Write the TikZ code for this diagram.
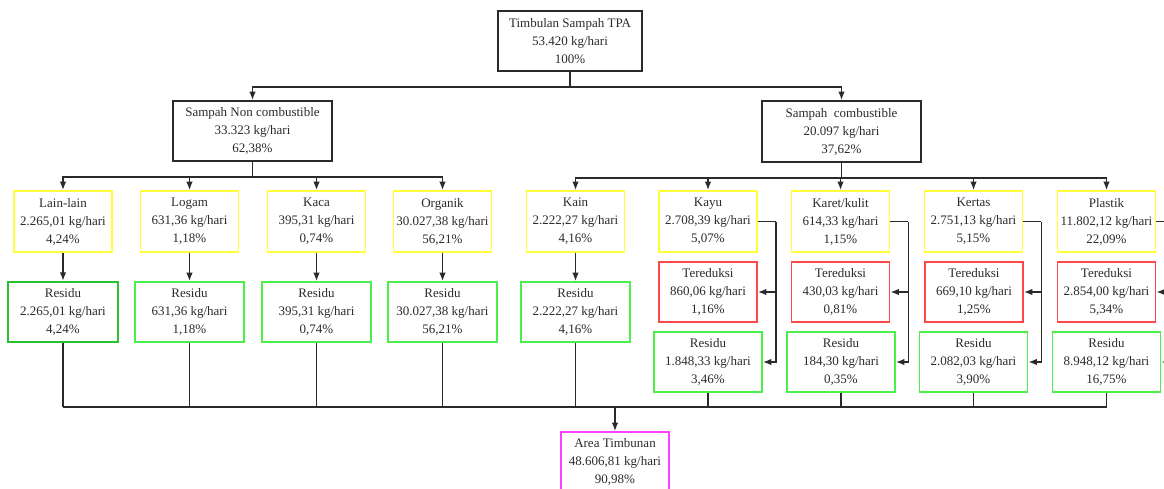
\documentclass[tikz,border=0pt]{standalone}
\usepackage{fontspec}
\setmainfont{Liberation Serif}
\usetikzlibrary{arrows.meta}
\definecolor{ylw}{HTML}{FFFF3A}
\definecolor{grn}{HTML}{4CF04C}
\definecolor{dgrn}{HTML}{2CC02C}
\definecolor{red1}{HTML}{FF4848}
\definecolor{mag}{HTML}{FF40FF}
\definecolor{ink}{HTML}{2A2A2A}
\begin{document}
\begin{tikzpicture}[x=1pt,y=-1pt,
  box/.style={draw=#1, line width=1.7pt, align=center, inner sep=0pt,
    font=\fontsize{13}{18}\selectfont, text=ink},
  kbox/.style={box=ink},
  ybox/.style={box=ylw, minimum width=98, minimum height=61},
  gbox/.style={box=grn, minimum width=109, minimum height=60},
  rbox/.style={box=red1, minimum width=98, minimum height=60},
  conn/.style={draw=ink, line width=1.5pt},
  >={Latex[length=8.5pt,width=6.5pt]}]
\useasboundingbox (0,0) rectangle (1164,488);

% level 0 / 1
\node[kbox, minimum width=144, minimum height=60] (top) at (570,41) {Timbulan Sampah TPA\\53.420 kg/hari\\100\%};
\node[kbox, minimum width=159, minimum height=60] (nc) at (252.5,131) {Sampah Non combustible\\33.323 kg/hari\\62,38\%};
\node[kbox, minimum width=159, minimum height=61] (cb) at (841.5,131.5) {Sampah\ \ combustible\\20.097 kg/hari\\37,62\%};

% level 2 (yellow)
\node[ybox] (lain) at (63,221.5) {Lain-lain\\2.265,01 kg/hari\\4,24\%};
\node[ybox] (logam) at (189.5,221.5) {Logam\\631,36 kg/hari\\1,18\%};
\node[ybox] (kaca) at (316.5,221.5) {Kaca\\395,31 kg/hari\\0,74\%};
\node[ybox] (organik) at (442.5,221.5) {Organik\\30.027,38 kg/hari\\56,21\%};
\node[ybox] (kain) at (575.5,221.5) {Kain\\2.222,27 kg/hari\\4,16\%};
\node[ybox] (kayu) at (708,221.5) {Kayu\\2.708,39 kg/hari\\5,07\%};
\node[ybox] (karet) at (840.5,221.5) {Karet/kulit\\614,33 kg/hari\\1,15\%};
\node[ybox] (kertas) at (973.5,221.5) {Kertas\\2.751,13 kg/hari\\5,15\%};
\node[ybox] (plastik) at (1106.5,221.5) {Plastik\\11.802,12 kg/hari\\22,09\%};

% residu left
\node[box=dgrn, line width=2.3pt, minimum width=110, minimum height=60] (rlain) at (63,312) {Residu\\2.265,01 kg/hari\\4,24\%};
\node[gbox] (rlogam) at (189.5,312) {Residu\\631,36 kg/hari\\1,18\%};
\node[gbox] (rkaca) at (316.5,312) {Residu\\395,31 kg/hari\\0,74\%};
\node[gbox] (rorganik) at (442.5,312) {Residu\\30.027,38 kg/hari\\56,21\%};
\node[gbox] (rkain) at (575.5,312) {Residu\\2.222,27 kg/hari\\4,16\%};

% tereduksi
\node[rbox] (tkayu) at (708,292) {Tereduksi\\860,06 kg/hari\\1,16\%};
\node[rbox] (tkaret) at (840.5,292) {Tereduksi\\430,03 kg/hari\\0,81\%};
\node[rbox] (tkertas) at (974,292) {Tereduksi\\669,10 kg/hari\\1,25\%};
\node[rbox] (tplastik) at (1106.5,292) {Tereduksi\\2.854,00 kg/hari\\5,34\%};

% residu right
\node[gbox, minimum width=108] (rkayu) at (708,362) {Residu\\1.848,33 kg/hari\\3,46\%};
\node[gbox, minimum width=108] (rkaret) at (841,362) {Residu\\184,30 kg/hari\\0,35\%};
\node[gbox, minimum width=108] (rkertas) at (973.5,362) {Residu\\2.082,03 kg/hari\\3,90\%};
\node[gbox, minimum width=108] (rplastik) at (1106.5,362) {Residu\\8.948,12 kg/hari\\16,75\%};

% area timbunan
\node[box=mag, minimum width=108, minimum height=60] (area) at (615,462) {Area Timbunan\\48.606,81 kg/hari\\90,98\%};

% connectors top
\draw[conn] (top.south) -- ++(0,15) coordinate (j0);
\draw[conn,->] (j0) -| (nc.north);
\draw[conn,->] (j0) -| (cb.north);
\draw[conn] (nc.south) -- ++(0,15) coordinate (j1);
\foreach \n in {lain,logam,kaca,organik} \draw[conn,->] (j1) -| (\n.north);
\draw[conn] (cb.south) -- ++(0,15) coordinate (j2);
\foreach \n in {kain,kayu,karet,kertas,plastik} \draw[conn,->] (j2) -| (\n.north);

% to residu (left)
\foreach \a/\b in {lain/rlain,logam/rlogam,kaca/rkaca,organik/rorganik,kain/rkain}
  \draw[conn,->] (\a.south) -- (\b.north);

% side connectors
\foreach \a/\b/\c in {kayu/tkayu/rkayu,karet/tkaret/rkaret,kertas/tkertas/rkertas,plastik/tplastik/rplastik}{
  \draw[conn] (\a.east) -- ++(18,0) coordinate (s);
  \draw[conn,->] (s) |- (\c.east);
  \draw[conn,->] (s |- \b.east) -- (\b.east);
}

% bottom bus
\coordinate (bus) at (615,407);
\foreach \r in {rlain,rlogam,rkaca,rorganik,rkain,rkayu,rkaret,rkertas,rplastik}
  \draw[conn] (\r.south) -- (\r.south |- bus);
\draw[conn] (rlain.south |- bus) -- (rplastik.south |- bus);
\draw[conn,->] (bus) -- (area.north);
\end{tikzpicture}
\end{document}
